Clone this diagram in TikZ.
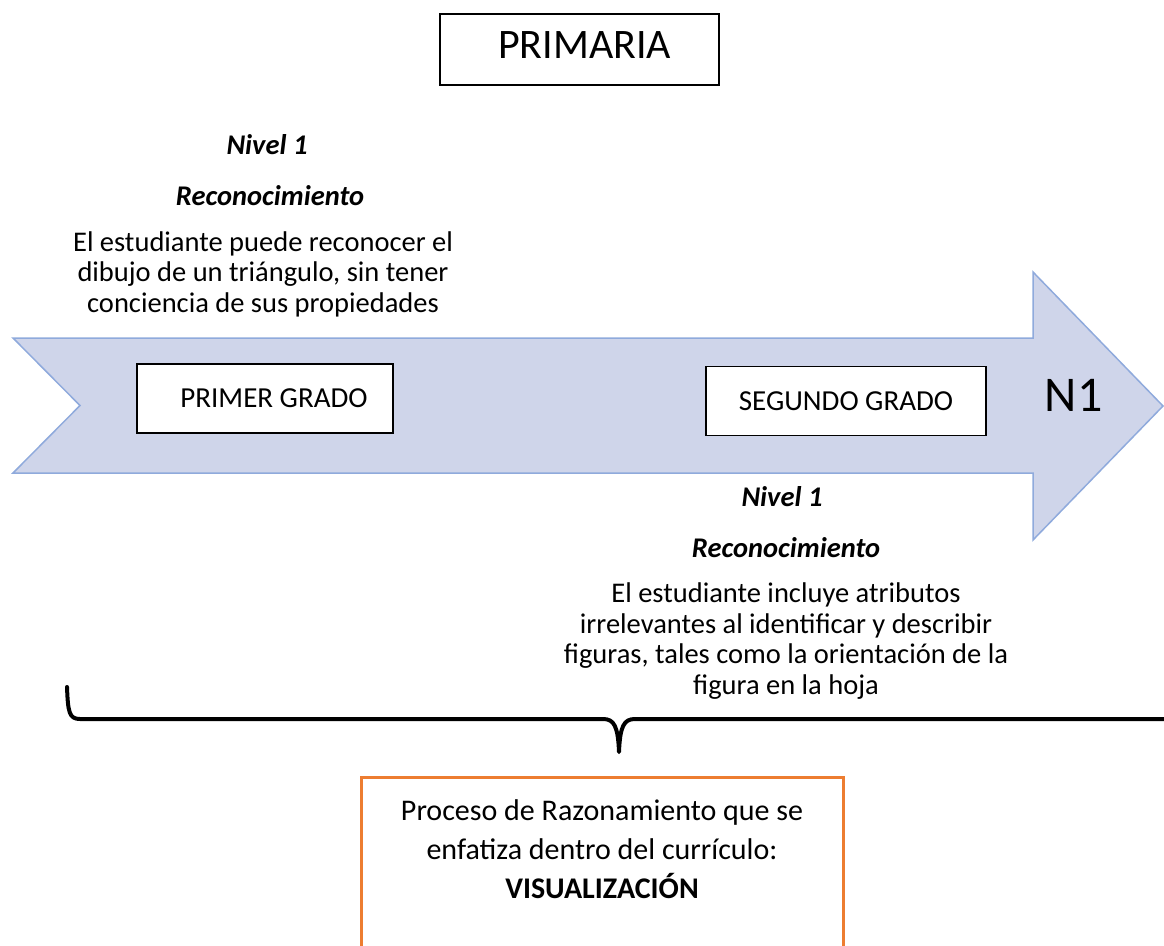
\documentclass[tikz,border=0pt]{standalone}
\usepackage{fontspec}
\setmainfont{Carlito}
\definecolor{arrowfill}{RGB}{207,213,234}
\definecolor{arrowline}{RGB}{143,170,220}
\definecolor{accentorange}{RGB}{237,125,49}
\begin{document}
\begin{tikzpicture}[x=1pt,y=-1pt,
  framebox/.style={draw=black, line width=1.8pt, fill=white, inner sep=0pt},
  gradebox/.style={framebox, minimum width=#1, minimum height=69pt,
    font=\fontsize{29}{34}\selectfont},
  heading/.style={inner sep=0pt, anchor=base,
    font=\fontsize{28.5}{30.5}\selectfont\bfseries\itshape},
  para/.style={inner sep=0pt, anchor=base, align=center,
    font=\fontsize{28.5}{30.5}\selectfont},
  procbox/.style={draw=accentorange, line width=3pt, fill=white,
    minimum width=482pt, minimum height=220pt, inner sep=0pt},
  proctext/.style={inner sep=0pt, anchor=base, align=center,
    font=\fontsize{30}{39}\selectfont},
  bracket/.style={draw=black, line width=4pt, line cap=round, line join=round}
]
\useasboundingbox (0,0) rectangle (1164,945);
\clip (0,0) rectangle (1164,945);

% title
\node[framebox, minimum width=279pt, minimum height=71pt,
      font=\fontsize{42}{48}\selectfont, text height=27pt, text depth=9pt]
  (title) at (579.5,49.5) {\hspace*{10pt}PRIMARIA};

% timeline arrow
\draw[fill=arrowfill, draw=arrowline, line width=1.5pt, line join=miter]
  (13,338) -- (1033,338) -- (1033,272) -- (1163,406) -- (1033,540)
  -- (1033,473) -- (13,473) -- (80,405.5) -- cycle;

% grades on the arrow
\node[gradebox=256pt] (g1) at (265,398.5) {\hspace*{18pt}PRIMER GRADO};
\node[gradebox=280pt] (g2) at (846,401) {SEGUNDO GRADO};
\node[inner sep=0pt, anchor=base, font=\fontsize{50}{56}\selectfont]
  (n1) at (1073.5,411) {N1};

% first grade description (multi-line nodes sit on their last baseline)
\node[heading] (lvA) at (267,154) {Nivel 1};
\node[heading] (rcA) at (270,205) {Reconocimiento};
\node[para] (dsA) at (263,312)
  {El estudiante puede reconocer el\\dibujo de un triángulo, sin tener\\conciencia de sus propiedades};

% second grade description
\node[heading] (lvB) at (782,506) {Nivel 1};
\node[heading] (rcB) at (786,557) {Reconocimiento};
\node[para] (dsB) at (786,694)
  {El estudiante incluye atributos\\irrelevantes al identificar y describir\\figuras, tales como la orientación de la\\figura en la hoja};

% brace gathering both grades
\coordinate (bl) at (67,687);
\coordinate (br) at (1170,719);
\coordinate (tip) at (619,752);
\draw[bracket] (bl) .. controls (68,712) and (69,719) .. (80,719)
  -- (603,719) .. controls (614,719) and (618,726) .. (tip)
  .. controls (620,726) and (624,719) .. (635,719) -- (br);

% reasoning process box
\node[procbox] (proc) at (602,887) {};
\node[proctext] (proctxt) at (602,898)
  {Proceso de Razonamiento que se\\enfatiza dentro del currículo:\\\textbf{VISUALIZACIÓN}};
\end{tikzpicture}
\end{document}
